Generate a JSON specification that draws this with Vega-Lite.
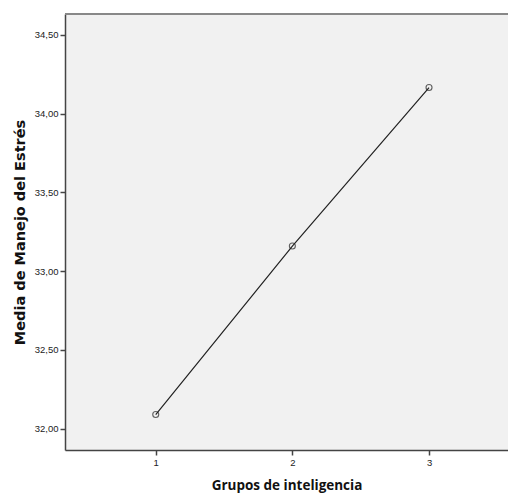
{
  "$schema": "https://vega.github.io/schema/vega-lite/v6.json",
  "autosize": "none",
  "padding": {"left": 65, "top": 14, "right": 0, "bottom": 45},
  "width": 443,
  "height": 436,
  "background": "#ffffff",
  "config": {
    "view": {"stroke": null, "fill": "#f1f1f1"},
    "axis": {
      "labelFont": "Liberation Sans",
      "labelFontSize": 9.5,
      "labelColor": "#222222",
      "titleFont": "Open Sans",
      "titleFontSize": 13.5,
      "titleFontWeight": "bold",
      "titleColor": "#111111",
      "domainColor": "#444444",
      "domainWidth": 1.5,
      "tickColor": "#444444",
      "tickWidth": 1.5,
      "tickSize": 5,
      "grid": false
    }
  },
  "data": {
    "values": [
      {"grupo": 1, "media": 32.09},
      {"grupo": 2, "media": 33.16},
      {"grupo": 3, "media": 34.166}
    ]
  },
  "layer": [
    {
      "mark": {"type": "rule", "color": "#888888", "strokeWidth": 2},
      "encoding": {"y": {"datum": 34.633, "type": "quantitative"}}
    },
    {
      "mark": {"type": "line", "color": "#222222", "strokeWidth": 1.2},
      "encoding": {
        "x": {
          "field": "grupo", "type": "quantitative",
          "scale": {"domain": [0.336, 3.578], "nice": false, "zero": false},
          "axis": {"values": [1, 2, 3], "format": "d", "title": "Grupos de inteligencia", "labelPadding": 2, "titlePadding": 12}
        },
        "y": {
          "field": "media", "type": "quantitative",
          "scale": {"domain": [31.865, 34.633], "nice": false, "zero": false},
          "axis": {
            "values": [32, 32.5, 33, 33.5, 34, 34.5],
            "labelExpr": "replace(format(datum.value, '.2f'), '.', ',')",
            "title": "Media de Manejo del Estrés",
            "titleFont": "DejaVu Sans",
            "titleFontSize": 14.5,
            "labelPadding": 2,
            "titlePadding": 7
          }
        }
      }
    },
    {
      "mark": {"type": "point", "shape": "circle", "filled": false, "color": "#222222", "size": 36, "strokeWidth": 1.1},
      "encoding": {
        "x": {"field": "grupo", "type": "quantitative"},
        "y": {"field": "media", "type": "quantitative"}
      }
    }
  ]
}
